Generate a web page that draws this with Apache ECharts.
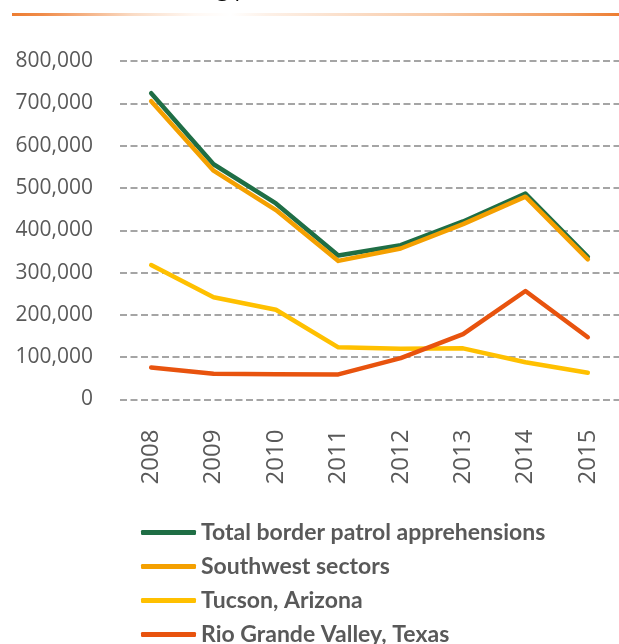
<!DOCTYPE html>
<html>
<head>
<meta charset="utf-8">
<script src="https://cdn.jsdelivr.net/npm/echarts@6/dist/echarts.min.js"></script>
<style>
  html, body { margin: 0; padding: 0; background: #fff; }
  #chart { width: 619px; height: 644px; }
</style>
</head>
<body>
<div id="chart"></div>
<script>
const years = ["2008", "2009", "2010", "2011", "2012", "2013", "2014", "2015"];
const totalApprehensions = [723825, 556041, 463382, 340252, 364768, 420789, 486651, 337117];
const southwestSectors = [705005, 540865, 447731, 327577, 356873, 414397, 479371, 331333];
const tucson = [317696, 241673, 212202, 123285, 120000, 120939, 87915, 63397];
const rioGrande = [75476, 60992, 59766, 59243, 97762, 154453, 256393, 147257];
const yTicks = [0, 100000, 200000, 300000, 400000, 500000, 600000, 700000, 800000];

const labelGrey = "#595959";
const myChart = echarts.init(document.getElementById("chart"));

function line(name, data, color) {
  return {
    name: name,
    type: "line",
    data: data,
    symbol: "none",
    color: color,
    lineStyle: { width: 4.5, color: color, cap: "round", join: "round" },
    animation: false,
  };
}

const option = {
  backgroundColor: "#fff",
  animation: false,
  textStyle: { fontFamily: "Open Sans" },
  graphic: [
    // title sits above the crop, only descenders peek out
    {
      type: "text",
      x: 67,
      y: 1,
      style: {
        text: "Border crossing patterns, 2008–2015",
        font: "22px 'Open Sans'",
        fill: "#000",
        verticalAlign: "bottom",
      },
    },
    {
      type: "rect",
      shape: { x: 12, y: 13, width: 607, height: 3 },
      style: {
        fill: new echarts.graphic.LinearGradient(0, 0, 1, 0, [
          { offset: 0, color: "#ed7d31" },
          { offset: 0.05, color: "#f08c4a" },
          { offset: 0.2, color: "#fadcc6" },
          { offset: 0.3, color: "#fff8f3" },
          { offset: 0.36, color: "#ffffff" },
          { offset: 0.42, color: "#fdf1e8" },
          { offset: 0.7, color: "#f8c9a6" },
          { offset: 0.92, color: "#f19a5c" },
          { offset: 1, color: "#ed7d31" },
        ]),
      },
    },
  ],
  legend: {
    orient: "vertical",
    left: 141,
    top: 521,
    height: 140,
    padding: 0,
    itemWidth: 55,
    itemHeight: 5,
    itemGap: 11,
    icon: "roundRect",
    textStyle: {
      fontFamily: "Lato",
      fontWeight: "bold",
      fontSize: 23,
      lineHeight: 23,
      color: labelGrey,
    },
    data: [
      "Total border patrol apprehensions",
      "Southwest sectors",
      "Tucson, Arizona",
      "Rio Grande Valley, Texas",
    ],
  },
  grid: {
    left: 120,
    top: 61,
    width: 511,
    height: 338.5,
    containLabel: false,
  },
  xAxis: {
    type: "category",
    data: years,
    boundaryGap: true,
    axisLine: { show: false },
    axisTick: { show: false },
    axisLabel: {
      rotate: 90,
      margin: 30,
      fontSize: 24,
      color: labelGrey,
      fontFamily: "Open Sans",
    },
  },
  yAxis: {
    type: "value",
    min: yTicks[0],
    max: yTicks[yTicks.length - 1],
    interval: yTicks[1] - yTicks[0],
    axisLine: { show: false },
    axisTick: { show: false },
    axisLabel: {
      margin: 27,
      fontSize: 21,
      color: labelGrey,
      fontFamily: "Open Sans",
      formatter: (v) => v.toLocaleString("en-US"),
    },
    splitLine: {
      show: true,
      lineStyle: { color: "#888888", width: 1.5, type: [7, 3.5] },
    },
  },
  series: [
    line("Total border patrol apprehensions", totalApprehensions, "#1f6e45"),
    line("Southwest sectors", southwestSectors, "#f4a000"),
    line("Tucson, Arizona", tucson, "#ffc000"),
    line("Rio Grande Valley, Texas", rioGrande, "#e8530e"),
  ],
};

myChart.setOption(option);
</script>
</body>
</html>
